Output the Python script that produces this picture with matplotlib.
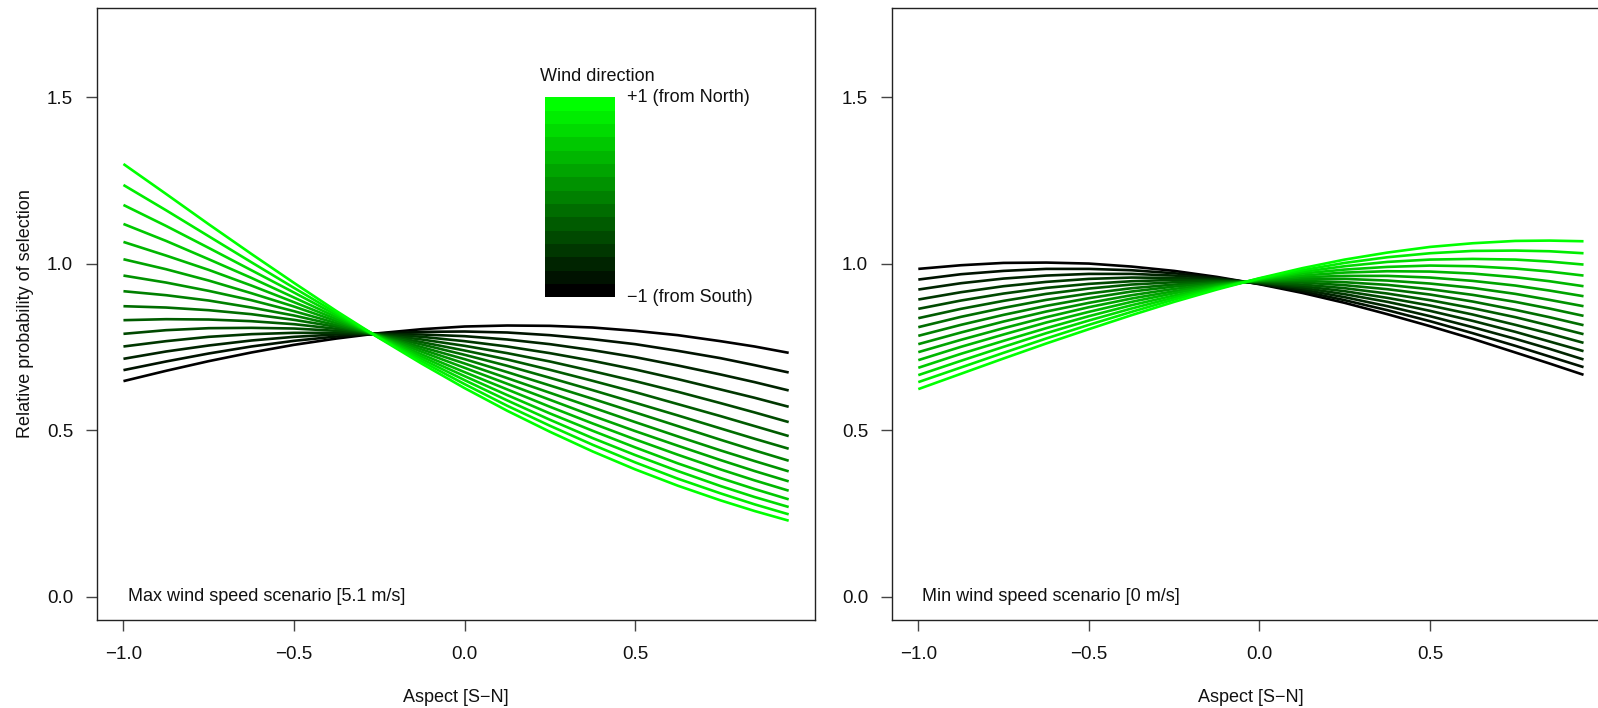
import numpy as np
import matplotlib
matplotlib.use("Agg")
import matplotlib.pyplot as plt
from matplotlib.colors import ListedColormap

plt.rcParams['font.family'] = ['Liberation Sans', 'DejaVu Sans']

# ---------------- data ----------------
aspect = [-1.0, -0.875, -0.75, -0.625, -0.5, -0.375, -0.25, -0.125, 0.0,
          0.125, 0.25, 0.375, 0.5, 0.625, 0.75, 0.85, 0.95]

# rows: wind direction from -1 (from South, black) to +1 (from North, green), 15 levels
max_wind_prob = [
    [0.648, 0.679, 0.708, 0.734, 0.757, 0.776, 0.792, 0.804, 0.812, 0.815, 0.814, 0.809, 0.799, 0.786, 0.768, 0.752, 0.733],
    [0.681, 0.707, 0.731, 0.752, 0.769, 0.782, 0.791, 0.796, 0.797, 0.794, 0.786, 0.774, 0.759, 0.739, 0.717, 0.696, 0.674],
    [0.715, 0.737, 0.755, 0.770, 0.781, 0.788, 0.790, 0.788, 0.783, 0.773, 0.759, 0.741, 0.720, 0.695, 0.668, 0.645, 0.620],
    [0.752, 0.768, 0.781, 0.789, 0.793, 0.793, 0.789, 0.781, 0.768, 0.752, 0.732, 0.709, 0.683, 0.654, 0.623, 0.598, 0.571],
    [0.790, 0.801, 0.807, 0.808, 0.806, 0.799, 0.788, 0.773, 0.754, 0.732, 0.707, 0.678, 0.648, 0.616, 0.582, 0.554, 0.525],
    [0.831, 0.834, 0.833, 0.828, 0.819, 0.805, 0.787, 0.765, 0.740, 0.713, 0.682, 0.649, 0.615, 0.579, 0.543, 0.513, 0.483],
    [0.873, 0.869, 0.861, 0.849, 0.832, 0.811, 0.786, 0.758, 0.727, 0.694, 0.658, 0.621, 0.583, 0.545, 0.506, 0.475, 0.445],
    [0.918, 0.906, 0.890, 0.869, 0.845, 0.816, 0.785, 0.750, 0.714, 0.675, 0.635, 0.595, 0.554, 0.513, 0.472, 0.440, 0.409],
    [0.965, 0.944, 0.919, 0.891, 0.858, 0.822, 0.784, 0.743, 0.701, 0.657, 0.613, 0.569, 0.525, 0.482, 0.440, 0.408, 0.377],
    [1.014, 0.984, 0.950, 0.912, 0.872, 0.828, 0.783, 0.736, 0.688, 0.640, 0.592, 0.544, 0.498, 0.454, 0.411, 0.378, 0.347],
    [1.066, 1.025, 0.982, 0.935, 0.885, 0.834, 0.782, 0.728, 0.675, 0.623, 0.571, 0.521, 0.473, 0.427, 0.383, 0.350, 0.319],
    [1.120, 1.069, 1.014, 0.958, 0.899, 0.840, 0.781, 0.721, 0.663, 0.606, 0.551, 0.499, 0.449, 0.401, 0.357, 0.324, 0.293],
    [1.177, 1.114, 1.048, 0.981, 0.914, 0.846, 0.779, 0.714, 0.651, 0.590, 0.532, 0.477, 0.426, 0.378, 0.333, 0.300, 0.270],
    [1.237, 1.161, 1.083, 1.005, 0.928, 0.852, 0.778, 0.707, 0.639, 0.574, 0.514, 0.457, 0.404, 0.355, 0.311, 0.278, 0.248],
    [1.300, 1.210, 1.119, 1.030, 0.943, 0.858, 0.777, 0.700, 0.627, 0.559, 0.496, 0.437, 0.383, 0.334, 0.290, 0.258, 0.229],
]

min_wind_prob = [
    [0.985, 0.996, 1.003, 1.004, 1.001, 0.992, 0.979, 0.961, 0.939, 0.913, 0.883, 0.849, 0.813, 0.775, 0.734, 0.701, 0.667],
    [0.953, 0.969, 0.979, 0.985, 0.985, 0.981, 0.972, 0.958, 0.940, 0.918, 0.891, 0.861, 0.828, 0.792, 0.754, 0.722, 0.690],
    [0.923, 0.942, 0.956, 0.965, 0.970, 0.970, 0.965, 0.956, 0.941, 0.923, 0.900, 0.873, 0.843, 0.810, 0.775, 0.745, 0.713],
    [0.893, 0.915, 0.933, 0.946, 0.955, 0.959, 0.958, 0.953, 0.943, 0.928, 0.909, 0.886, 0.859, 0.829, 0.796, 0.767, 0.738],
    [0.865, 0.890, 0.911, 0.928, 0.940, 0.948, 0.952, 0.950, 0.944, 0.933, 0.918, 0.898, 0.875, 0.848, 0.817, 0.791, 0.763],
    [0.837, 0.865, 0.889, 0.910, 0.926, 0.938, 0.945, 0.948, 0.945, 0.938, 0.927, 0.911, 0.891, 0.867, 0.840, 0.815, 0.789],
    [0.810, 0.841, 0.868, 0.892, 0.911, 0.927, 0.938, 0.945, 0.947, 0.944, 0.936, 0.924, 0.908, 0.887, 0.862, 0.840, 0.816],
    [0.784, 0.817, 0.847, 0.874, 0.897, 0.917, 0.932, 0.942, 0.948, 0.949, 0.945, 0.937, 0.924, 0.907, 0.886, 0.866, 0.844],
    [0.759, 0.794, 0.827, 0.857, 0.883, 0.906, 0.925, 0.939, 0.949, 0.954, 0.955, 0.950, 0.941, 0.928, 0.910, 0.892, 0.873],
    [0.735, 0.772, 0.807, 0.840, 0.870, 0.896, 0.918, 0.937, 0.950, 0.960, 0.964, 0.964, 0.959, 0.949, 0.935, 0.920, 0.903],
    [0.711, 0.751, 0.788, 0.824, 0.856, 0.886, 0.912, 0.934, 0.952, 0.965, 0.974, 0.978, 0.977, 0.971, 0.960, 0.948, 0.933],
    [0.688, 0.730, 0.769, 0.807, 0.843, 0.876, 0.905, 0.931, 0.953, 0.971, 0.983, 0.991, 0.995, 0.993, 0.986, 0.977, 0.965],
    [0.666, 0.709, 0.751, 0.792, 0.830, 0.866, 0.899, 0.929, 0.954, 0.976, 0.993, 1.006, 1.013, 1.015, 1.013, 1.007, 0.998],
    [0.645, 0.689, 0.733, 0.776, 0.817, 0.856, 0.893, 0.926, 0.956, 0.981, 1.003, 1.020, 1.032, 1.039, 1.040, 1.038, 1.032],
    [0.624, 0.670, 0.716, 0.761, 0.804, 0.846, 0.886, 0.923, 0.957, 0.987, 1.013, 1.034, 1.051, 1.062, 1.069, 1.070, 1.068],
]

x_ticks = [-1.0, -0.5, 0.0, 0.5]
x_ticklabels = ['\u22121.0', '\u22120.5', '0.0', '0.5']
y_ticks = [0.0, 0.5, 1.0, 1.5]
y_ticklabels = ['0.0', '0.5', '1.0', '1.5']

panel_titles = ['Max wind speed scenario [5.1 m/s]', 'Min wind speed scenario [0 m/s]']
x_label = 'Aspect [S\u2212N]'
y_label = 'Relative probability of selection'
legend_title = 'Wind direction'
legend_top = '+1 (from North)'
legend_bottom = '\u22121 (from South)'

# ---------------- style ----------------
n_levels = len(max_wind_prob)
colors = [(0.0, g, 0.0) for g in np.linspace(0, 1, n_levels)]
FS = 13.5
TXT = '#111111'

fig = plt.figure(figsize=(15.98, 7.08), dpi=100)
ax1 = fig.add_axes([0.0606, 0.1249, 0.4496, 0.8636])
ax2 = fig.add_axes([0.558, 0.1249, 0.4496, 0.8636])

for ax, data, title in [(ax1, max_wind_prob, panel_titles[0]),
                        (ax2, min_wind_prob, panel_titles[1])]:
    for i, row in enumerate(data):
        ax.plot(aspect, row, color=colors[i], lw=1.9, solid_capstyle='butt',
                solid_joinstyle='round')
    ax.set_xlim(-1.078, 1.028)
    ax.set_ylim(-0.068, 1.768)
    ax.set_xticks(x_ticks)
    ax.set_xticklabels(x_ticklabels)
    ax.set_yticks(y_ticks)
    ax.set_yticklabels(y_ticklabels)
    ax.tick_params(axis='both', direction='out', length=8, width=1,
                   color='#444444', labelsize=FS, labelcolor=TXT)
    ax.tick_params(axis='x', pad=11)
    ax.tick_params(axis='y', pad=9)
    for sp in ax.spines.values():
        sp.set_color('#222222')
        sp.set_linewidth(1.0)
    ax.text(-0.988, 0.0, title, ha='left', va='center', fontsize=FS - 0.5,
            color=TXT)
    ax.set_xlabel(x_label, fontsize=FS - 0.5, color=TXT)
    ax.xaxis.set_label_coords(0.5, -0.128)
    ax.xaxis.label.set_va('center')

ax1.set_ylabel(y_label, fontsize=FS - 0.5, color=TXT)
ax1.yaxis.set_label_coords(-0.0995, 0.5)
ax1.yaxis.label.set_va('center')

# colour legend (gradient bar) in left panel
xl, xr, yb, yt = 0.235, 0.44, 0.9, 1.5
edges_y = np.linspace(yb, yt, n_levels + 1)
cvals = np.arange(n_levels).reshape(-1, 1)
ax1.pcolormesh([xl, xr], edges_y, cvals, cmap=ListedColormap(colors),
               shading='flat', zorder=3)
ax1.text(xr + 0.035, yt, legend_top, ha='left', va='center', fontsize=FS - 0.5,
         color=TXT)
ax1.text(xr + 0.035, yb, legend_bottom, ha='left', va='center', fontsize=FS - 0.5,
         color=TXT)
ax1.text(xl - 0.015, yt + 0.062, legend_title, ha='left', va='center',
         fontsize=FS - 0.5, color=TXT)

fig.savefig('out.png', dpi=100)
